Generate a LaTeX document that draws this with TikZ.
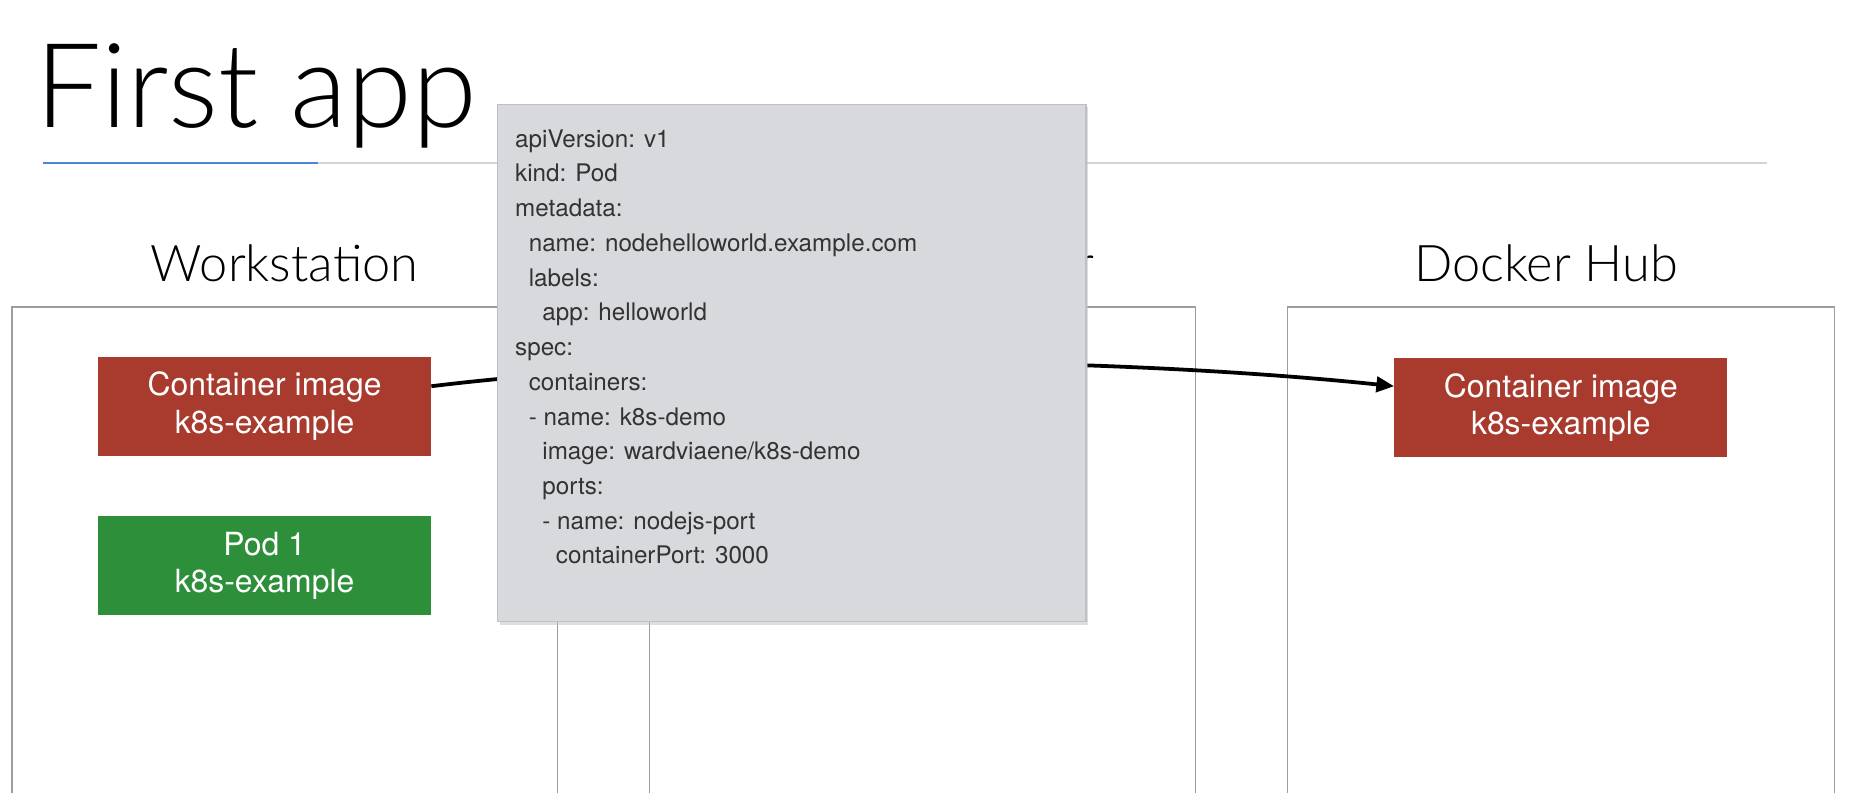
\documentclass[tikz,border=0pt]{standalone}
\usepackage{fontspec}
\setmainfont{TeX Gyre Heros}
\newfontfamily\lightfont{Lato}[UprightFont={* Light}]
\usetikzlibrary{arrows.meta}
\definecolor{boxred}{HTML}{A83A2E}
\definecolor{boxgreen}{HTML}{2E8F3B}
\definecolor{yamlgray}{HTML}{D8D9DC}
\definecolor{yamledge}{HTML}{BFC0C4}
\definecolor{framegray}{HTML}{9C9CA2}
\definecolor{rulegray}{HTML}{D4D4D6}
\definecolor{ruleblue}{HTML}{4A86D8}
\definecolor{yamltext}{HTML}{333333}
\newcommand{\yind}[1]{\hspace*{#1\dimexpr11.5pt\relax}}
\begin{document}
\begin{tikzpicture}[x=1pt,y=-1pt,
  colframe/.style={draw=framegray,line width=1.2pt},
  imgbox/.style={fill=boxred,text=white,minimum width=282pt,minimum height=84pt,
    inner sep=0pt,align=center,font=\fontsize{27}{32}\selectfont},
  podbox/.style={imgbox,fill=boxgreen},
  header/.style={font=\lightfont\fontsize{42.8}{48}\selectfont,text=black,inner sep=0pt,anchor=base},
  yamlbox/.style={fill=yamlgray,draw=yamledge,line width=1pt,minimum width=498pt,
    minimum height=438pt,inner sep=0pt,anchor=north west},
  yamltxt/.style={text=yamltext,align=left,inner sep=0pt,anchor=north west,
    font=\fontsize{20.5}{29.4}\selectfont},
  flow/.style={-{Triangle[length=15pt,width=13pt]},line width=3.2pt,black}
]
\useasboundingbox (0,0) rectangle (1568,670.6);
\fill[white] (0,0) rectangle (1568,670.6);

% title and rule
\node[font=\lightfont\fontsize{99.5}{104}\selectfont,inner sep=0pt,anchor=base west] (title) at (30,108) {First app};
\draw[ruleblue,line width=1.5pt] (36,138) -- (269,138);
\draw[rulegray,line width=1.5pt] (269,138) -- (1496,138);

% column frames
\draw[colframe] (10,672) -- (10,260) -- (472,260) -- (472,672);
\draw[colframe] (550,672) -- (550,260) -- (1012,260) -- (1012,672);
\draw[colframe] (1090,672) -- (1090,260) -- (1553,260) -- (1553,672);

% headers
\node[header] (hws) at (241,238) {Workstation};
\node[header,anchor=base east] (hmid) at (927,238) {r};
\node[header] (hdh) at (1309,238) {Docker Hub};

% boxes
\node[imgbox] (img1) at (224,344) {Container image\\k8s-example};
\node[podbox] (pod1) at (224,479) {Pod 1\\k8s-example};
\node[imgbox] (img2) at (1321.5,345) {Container image\\k8s-example};

% arrow
\draw[flow] ([yshift=17pt]img1.east) .. controls (620,296) and (960,304) .. ([yshift=18pt]img2.west);

% yaml popup
\fill[black!25,opacity=0.5] (423,91) rectangle (921,529);
\node[yamlbox] (yaml) at (421,88) {};
\node[yamltxt] (yamltext) at (436,109.5) {apiVersion: v1\\
kind: Pod\\
metadata:\\
\yind{1}name: nodehelloworld.example.com\\
\yind{1}labels:\\
\yind{2}app: helloworld\\
spec:\\
\yind{1}containers:\\
\yind{1}- name: k8s-demo\\
\yind{2}image: wardviaene/k8s-demo\\
\yind{2}ports:\\
\yind{2}- name: nodejs-port\\
\yind{3}containerPort: 3000};
\end{tikzpicture}
\end{document}
